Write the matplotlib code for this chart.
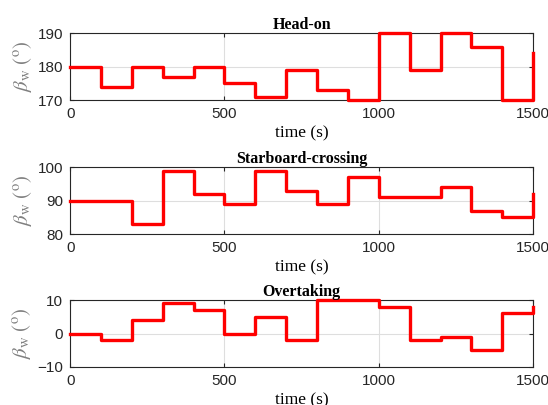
import numpy as np
import matplotlib
matplotlib.use('Agg')
import matplotlib.pyplot as plt

plt.rcParams['mathtext.fontset'] = 'stix'

# step times (s) and heading values per scenario
t = np.arange(0, 1501, 100)
head_on = [180, 174, 180, 177, 180, 175, 171, 179, 173, 170, 190, 179, 190, 186, 170, 184]
starboard = [90, 90, 83, 99, 92, 89, 99, 93, 89, 97, 91, 91, 94, 87, 85, 92]
overtaking = [0, -2, 4, 9, 7, 0, 5, -2, 10, 10, 8, -2, -1, -5, 6, 8]

titles = ['Head-on', 'Starboard-crossing', 'Overtaking']
series = [head_on, starboard, overtaking]
ylims = [(170, 190), (80, 100), (-10, 10)]
yticks = [[170, 180, 190], [80, 90, 100], [-10, 0, 10]]
xticks = [0, 500, 1000, 1500]

fig = plt.figure(figsize=(5.48, 4.05), dpi=100)
bottoms = [0.753, 0.422, 0.094]

for b, title, y, yl, yt in zip(bottoms, titles, series, ylims, yticks):
    ax = fig.add_axes([0.128, b, 0.845, 0.165])
    ax.step(t, y, where='post', color='red', lw=2.4, clip_on=False, zorder=3)
    ax.set_xlim(0, 1500)
    ax.set_ylim(*yl)
    ax.set_xticks(xticks)
    ax.set_yticks(yt)
    ax.grid(True, color='#dedede', lw=0.8)
    ax.set_axisbelow(True)
    ax.tick_params(direction='in', length=3, top=True, right=True, labelsize=11,
                   colors='#262626', pad=5)
    for lab in ax.get_xticklabels() + ax.get_yticklabels():
        lab.set_fontfamily('Liberation Sans')
    for s in ax.spines.values():
        s.set_color('#262626')
        s.set_linewidth(0.8)
    ax.set_title(title, fontfamily='Liberation Serif', fontweight='bold',
                 fontsize=11.5, pad=3)
    ax.set_xlabel('time (s)', fontfamily='Liberation Serif', fontsize=12.5, labelpad=3)
    ax.set_ylabel(r'$\beta_{\rm w}\ (^{\rm o})$', fontsize=15, color='#808080', labelpad=3)

fig.savefig('out.png', dpi=100)
